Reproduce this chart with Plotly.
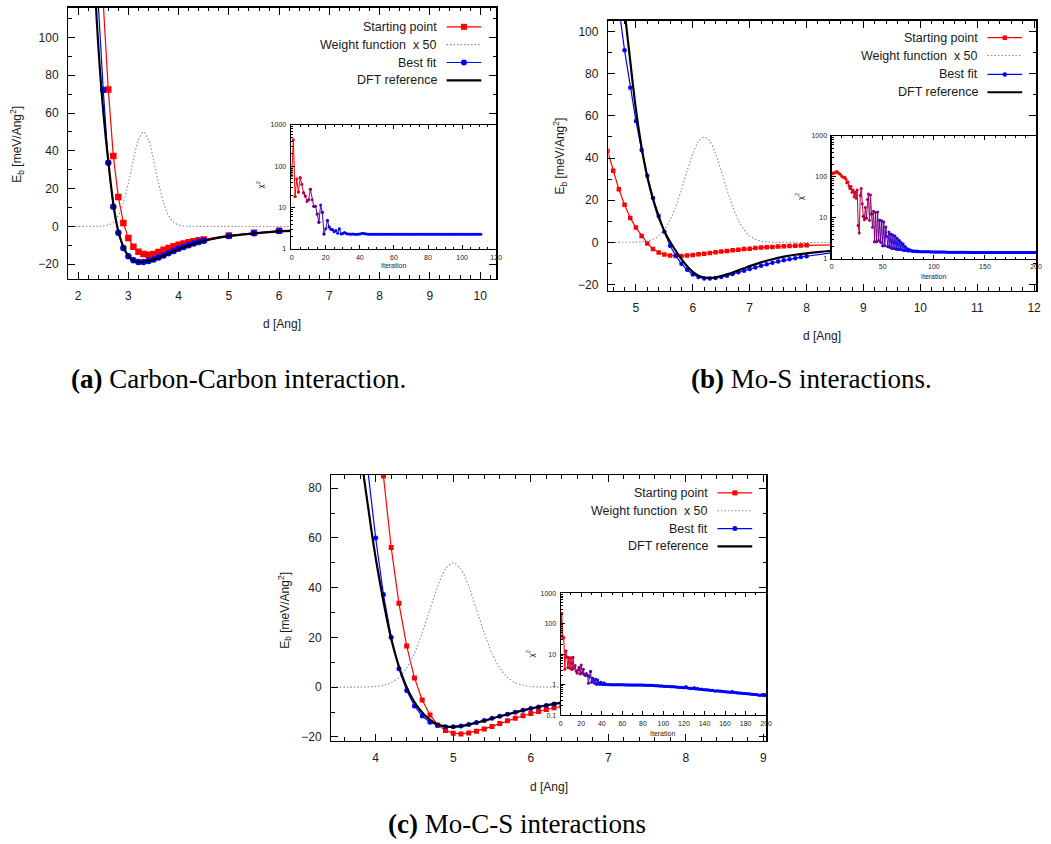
import plotly.graph_objects as go

# ---------------- panel (a): Carbon-Carbon ----------------
d_a_dft = [2.30, 2.35, 2.40, 2.45, 2.50, 2.55, 2.60, 2.65, 2.70, 2.75, 2.80, 2.85, 2.90, 2.95,
           3.00, 3.05, 3.10, 3.15, 3.20, 3.25, 3.30, 3.35, 3.40, 3.50, 3.60, 3.70, 3.80, 3.90,
           4.00, 4.20, 4.40, 4.60, 4.80, 5.00, 5.50, 6.00, 6.50, 7.00, 8.00, 9.00, 10.40]
E_a_dft = [150, 119, 96, 77, 61, 47, 34.5, 22.5, 12, 3.6, -2.6, -7.2, -10.8, -13.6,
           -15.6, -17.0, -18.0, -18.6, -18.9, -19.0, -18.9, -18.7, -18.4, -17.6, -16.7, -15.6, -14.4, -13.2,
           -12.1, -10.2, -8.5, -7.1, -6.0, -5.2, -3.7, -2.7, -2.1, -1.6, -1.0, -0.7, -0.4]
d_a_start = [2.5, 2.6, 2.7, 2.8, 2.9, 3.0, 3.1, 3.2, 3.3, 3.4, 3.5, 3.6, 3.7, 3.8, 3.9, 4.0, 4.1,
             4.2, 4.3, 4.4, 4.5, 5.0, 5.5, 6.0, 6.5, 7.0, 7.5, 8.0, 8.5, 9.0, 9.5, 10.0]
E_a_start = [118, 72.5, 37.3, 15.6, 1.8, -6.2, -10.8, -13.4, -14.6, -15.0, -14.6, -13.6, -12.4, -11.4,
             -10.5, -9.7, -9.0, -8.4, -7.9, -7.4, -6.9, -4.8, -3.4, -2.3, -1.8, -1.4, -1.1, -0.9, -0.7,
             -0.6, -0.5, -0.4]
d_a_fit = [2.4, 2.5, 2.6, 2.7, 2.8, 2.9, 3.0, 3.1, 3.2, 3.3, 3.4, 3.5, 3.6, 3.7, 3.8, 3.9, 4.0, 4.1,
           4.2, 4.3, 4.4, 4.5, 5.0, 5.5, 6.0, 6.5, 7.0, 7.5, 8.0, 8.5, 9.0, 9.5, 10.0]
E_a_fit = [118, 72.2, 33.7, 10.4, -3.4, -11.4, -15.8, -17.9, -18.8, -18.8, -18.3, -17.5, -16.5, -15.4,
           -14.2, -13.0, -11.9, -10.9, -10.0, -9.1, -8.3, -7.6, -5.1, -3.6, -2.5, -1.9, -1.5, -1.2,
           -0.95, -0.75, -0.6, -0.5, -0.4]
d_a_w = [1.80, 2.40, 2.50, 2.60, 2.70, 2.80, 2.90, 3.00, 3.10, 3.20, 3.30, 3.40, 3.50, 3.60, 3.70,
         3.80, 3.90, 4.00, 4.10, 4.20, 4.30, 10.40]
W_a = [0, 0.03, 0.19, 0.71, 2.2, 5.7, 12.5, 22.9, 35.3, 45.8, 50.0, 45.8, 35.3, 22.9, 12.5,
       5.7, 2.2, 0.71, 0.19, 0.04, 0, 0]
chi_a = [60, 440, 18.7, 49, 24, 53, 37, 23, 19, 14,
         15.5, 28, 15.5, 10.8, 10.8, 7.0, 4.4, 11.6, 7.7, 2.3,
         3.1, 4.9, 3.4, 3.0, 2.9, 2.6, 2.8, 2.4, 3.1, 2.3,
         2.35, 2.5, 2.35, 2.3, 2.3, 2.28, 2.3, 2.28, 2.27, 2.28,
         2.3, 2.35, 2.4, 2.32, 2.3, 2.28, 2.28, 2.27, 2.28, 2.28,
         2.27, 2.28, 2.28, 2.28, 2.27, 2.28, 2.28, 2.28, 2.27, 2.28,
         2.28, 2.28, 2.27, 2.28, 2.28, 2.28, 2.27, 2.28, 2.28, 2.28,
         2.27, 2.28, 2.28, 2.28, 2.27, 2.28, 2.28, 2.27, 2.28, 2.28,
         2.28, 2.27, 2.28, 2.28, 2.28, 2.27, 2.28, 2.28, 2.28, 2.27,
         2.28, 2.28, 2.27, 2.28, 2.28, 2.28, 2.27, 2.28, 2.28, 2.28,
         2.27, 2.28, 2.28, 2.28, 2.27, 2.28, 2.28, 2.28, 2.27, 2.28,
         2.28, 2.28]

# ---------------- panel (b): Mo-S ----------------
d_b_dft = [4.75, 4.80, 4.85, 4.90, 4.95, 5.00, 5.05, 5.10, 5.15, 5.20, 5.25, 5.30, 5.35, 5.40, 5.45,
           5.50, 5.55, 5.60, 5.70, 5.80, 5.90, 6.00, 6.10, 6.20, 6.30, 6.40, 6.50, 6.60, 6.70, 6.80,
           6.90, 7.00, 7.20, 7.40, 7.60, 7.80, 8.00, 8.20, 8.40, 8.60, 9.00, 9.50, 10.00, 11.00, 12.10]
E_b_dft = [123, 110, 98, 86, 74, 63, 53.5, 45, 37.5, 31, 25.5, 20.5, 16, 12, 8.5,
           5.3, 2.6, 0.3, -4.0, -8.0, -11.3, -14.0, -15.8, -16.7, -16.9, -16.6, -16.0, -15.2, -14.3, -13.3,
           -12.3, -11.3, -9.5, -8.0, -6.8, -5.9, -5.2, -4.6, -4.1, -3.7, -3.0, -2.4, -1.9, -1.3, -0.8]
d_b_start = [4.5, 4.6, 4.7, 4.8, 4.9, 5.0, 5.1, 5.2, 5.3, 5.4, 5.5, 5.6, 5.7, 5.8, 5.9, 6.0, 6.1, 6.2,
             6.3, 6.4, 6.5, 6.6, 6.7, 6.8, 6.9, 7.0, 7.1, 7.2, 7.3, 7.4, 7.5, 7.6, 7.7, 7.8, 7.9, 8.0,
             8.5, 9.0, 9.5, 10.0, 10.5, 11.0, 11.5, 12.0]
E_b_start = [43.5, 34.0, 25.2, 17.8, 11.6, 7.0, 3.0, -0.5, -3.2, -4.8, -5.8, -6.3, -6.5, -6.5, -6.3,
             -6.0, -5.7, -5.4, -5.0, -4.7, -4.4, -4.1, -3.8, -3.5, -3.2, -3.0, -2.7, -2.5, -2.3, -2.2,
             -2.0, -1.9, -1.7, -1.6, -1.5, -1.4, -1.1, -0.9, -0.7, -0.6, -0.5, -0.4, -0.35, -0.3]
d_b_fit = [4.5, 4.6, 4.7, 4.8, 4.9, 5.0, 5.1, 5.2, 5.3, 5.4, 5.5, 5.6, 5.7, 5.8, 5.9, 6.0, 6.1, 6.2,
           6.3, 6.4, 6.5, 6.6, 6.7, 6.8, 6.9, 7.0, 7.1, 7.2, 7.3, 7.4, 7.5, 7.6, 7.7, 7.8, 7.9, 8.0,
           8.5, 9.0, 9.5, 10.0, 10.5, 11.0, 11.5, 12.0]
E_b_fit = [160, 134, 111.5, 91.1, 73.4, 57.6, 43.8, 31.6, 21.1, 12.5, 5.0, -1.6, -6.3, -10.2, -13.0,
           -15.2, -16.4, -17.1, -17.2, -16.9, -16.4, -15.8, -15.0, -14.2, -13.5, -12.7, -11.9, -11.1,
           -10.4, -9.7, -9.1, -8.5, -8.0, -7.5, -7.0, -6.6, -4.8, -3.6, -2.8, -2.2, -1.7, -1.4, -1.1, -0.9]
d_b_w = [4.50, 5.00, 5.10, 5.20, 5.30, 5.40, 5.50, 5.60, 5.70, 5.80, 5.90, 6.00, 6.10, 6.20, 6.30,
         6.40, 6.50, 6.60, 6.70, 6.80, 6.90, 7.00, 7.10, 7.20, 7.30, 7.40, 7.50, 12.10]
W_b = [0, 0.1, 0.27, 0.66, 1.5, 3.1, 6.0, 10.5, 17.0, 25.0, 33.9, 42.1, 47.9, 50.0, 47.9,
       42.1, 33.9, 25.0, 17.0, 10.5, 6.0, 3.1, 1.5, 0.66, 0.27, 0.1, 0, 0]
chi_b = [125, 120, 126, 124, 130, 136, 128, 122, 118, 112,
         104, 100, 96, 98, 88, 72, 75, 60, 52, 58,
         42, 48, 33, 42, 30, 48, 6.5, 4.3, 35, 52,
         22, 11, 9, 18, 10, 28, 38, 8.7, 36, 12.5,
         5.9, 14.5, 2.6, 13.6, 2.6, 14, 2.8, 8.7, 2.5, 8.5,
         2.1, 7.9, 2.1, 6.0, 3.5, 2.0, 4.5, 1.9, 4.0, 1.8,
         3.8, 1.8, 3.6, 1.75, 3.2, 1.7, 2.8, 1.7, 2.5, 1.65,
         2.3, 1.6, 2.0, 1.6, 1.8, 1.55, 1.7, 1.55, 1.6, 1.52,
         1.58, 1.52, 1.55, 1.5, 1.56, 1.5, 1.52, 1.5, 1.5, 1.49,
         1.5, 1.49, 1.5, 1.49, 1.49, 1.49, 1.49, 1.48, 1.49, 1.48,
         1.48, 1.48, 1.48, 1.48, 1.47, 1.48, 1.47, 1.47, 1.47, 1.47,
         1.47, 1.47, 1.46, 1.47, 1.46, 1.46, 1.46, 1.46, 1.46, 1.46,
         1.46, 1.46, 1.45, 1.46, 1.45, 1.45, 1.45, 1.45, 1.45, 1.45,
         1.45, 1.45, 1.45, 1.44, 1.45, 1.44, 1.44, 1.44, 1.44, 1.44,
         1.44, 1.44, 1.44, 1.44, 1.44, 1.44, 1.44, 1.44, 1.44, 1.44,
         1.44, 1.44, 1.44, 1.43, 1.44, 1.43, 1.44, 1.43, 1.43, 1.43,
         1.43, 1.43, 1.43, 1.43, 1.43, 1.43, 1.43, 1.43, 1.43, 1.43,
         1.43, 1.43, 1.43, 1.43, 1.43, 1.43, 1.43, 1.43, 1.43, 1.43,
         1.43, 1.43, 1.43, 1.43, 1.43, 1.43, 1.43, 1.43, 1.43, 1.43,
         1.43, 1.43, 1.43, 1.43, 1.43, 1.43, 1.43, 1.43, 1.43, 1.43,
         1.43]

# ---------------- panel (c): Mo-C-S ----------------
d_c_dft = [3.80, 3.85, 3.90, 3.95, 4.00, 4.05, 4.10, 4.15, 4.20, 4.25, 4.30, 4.35, 4.40, 4.45, 4.50,
           4.55, 4.60, 4.65, 4.70, 4.75, 4.80, 4.85, 4.90, 4.95, 5.00, 5.10, 5.20, 5.30, 5.40, 5.50,
           5.60, 5.70, 5.80, 5.90, 6.00, 6.20, 6.40, 6.60, 6.80, 7.00, 7.50, 8.00, 8.50, 9.10]
E_c_dft = [97, 84, 73, 62, 52, 43, 34.5, 26.5, 19.5, 13.5, 8.3, 3.8, 0.0, -3.3, -6.0,
           -8.3, -10.2, -11.8, -13.1, -14.2, -15.0, -15.5, -15.8, -16.0, -16.0, -15.7, -15.1, -14.3, -13.5, -12.6,
           -11.7, -10.9, -10.1, -9.3, -8.6, -7.3, -6.2, -5.3, -4.5, -3.9, -2.7, -1.9, -1.4, -1.0]
d_c_start = [4.0, 4.1, 4.2, 4.3, 4.4, 4.5, 4.6, 4.7, 4.8, 4.9, 5.0, 5.1, 5.2, 5.3, 5.4, 5.5, 5.6, 5.7,
             5.8, 5.9, 6.0, 6.1, 6.2, 6.3, 6.4, 6.5, 7.0, 7.5, 8.0, 8.5, 9.0]
E_c_start = [122, 84.9, 56.2, 33.7, 16.5, 3.7, -5.2, -11.2, -15.2, -17.4, -18.5, -18.8, -18.4, -17.7,
             -16.8, -15.8, -14.6, -13.5, -12.5, -11.5, -10.6, -9.8, -9.0, -8.3, -7.7, -7.1, -4.8, -3.3,
             -2.3, -1.7, -1.3]
d_c_fit = [3.8, 3.9, 4.0, 4.1, 4.2, 4.3, 4.4, 4.5, 4.6, 4.7, 4.8, 4.9, 5.0, 5.1, 5.2, 5.3, 5.4, 5.5,
           5.6, 5.7, 5.8, 5.9, 6.0, 6.1, 6.2, 6.3, 6.4, 6.5, 7.0, 7.5, 8.0, 8.5, 9.0]
E_c_fit = [120, 87, 60.0, 37.3, 20.1, 7.4, -1.4, -7.6, -11.6, -14.1, -15.4, -15.9, -15.9, -15.6, -15.0,
           -14.2, -13.4, -12.5, -11.7, -10.9, -10.1, -9.3, -8.6, -8.0, -7.4, -6.8, -6.3, -5.8, -3.9,
           -2.8, -2.0, -1.5, -1.1]
d_c_w = [3.40, 3.80, 3.90, 4.00, 4.10, 4.20, 4.30, 4.40, 4.50, 4.60, 4.70, 4.80, 4.90, 5.00, 5.10,
         5.20, 5.30, 5.40, 5.50, 5.60, 5.70, 5.80, 5.90, 6.00, 6.10, 6.20, 9.10]
W_c = [0, 0.02, 0.09, 0.27, 0.74, 1.8, 3.9, 7.7, 13.6, 21.8, 31.3, 40.6, 47.5, 50.0, 47.5,
       40.6, 31.3, 21.8, 13.6, 7.7, 3.9, 1.8, 0.74, 0.27, 0.09, 0.02, 0]
chi_c = [36, 218, 36, 34, 3.2, 12.6, 8.0, 3.6, 7.6, 3.4,
         7.6, 3.2, 7.8, 3.5, 4.2, 2.8, 2.4, 3.0, 3.6, 2.2,
         4.4, 2.4, 3.2, 2.1, 2.0, 2.3, 2.0, 1.1, 1.8, 2.7,
         1.2, 1.6, 1.3, 1.1, 1.5, 1.0, 1.4, 1.1, 1.0, 1.2,
         1.05, 1.0, 1.15, 1.0, 1.05, 1.0, 0.99, 1.0, 0.99, 0.99,
         0.99, 0.98, 0.99, 0.98, 0.98, 0.99, 0.98, 0.98, 0.98, 0.98,
         0.98, 0.98, 0.97, 0.98, 0.97, 0.97, 0.98, 0.97, 0.97, 0.97,
         0.97, 0.96, 0.97, 0.96, 0.96, 0.96, 0.97, 0.96, 0.96, 0.96,
         0.96, 0.95, 0.96, 0.95, 0.95, 0.95, 0.94, 0.95, 0.94, 0.94,
         0.93, 0.93, 0.92, 0.92, 0.91, 0.91, 0.90, 0.90, 0.89, 0.89,
         0.88, 0.88, 0.87, 0.87, 0.86, 0.86, 0.86, 0.85, 0.85, 0.84,
         0.84, 0.84, 0.83, 0.83, 0.82, 0.82, 0.81, 0.81, 0.80, 0.80,
         0.79, 0.79, 0.86, 0.78, 0.77, 0.76, 0.76, 0.75, 0.74, 0.74,
         0.80, 0.73, 0.72, 0.76, 0.71, 0.70, 0.70, 0.72, 0.69, 0.68,
         0.67, 0.67, 0.66, 0.68, 0.66, 0.65, 0.65, 0.64, 0.65, 0.63,
         0.62, 0.62, 0.61, 0.63, 0.61, 0.60, 0.61, 0.59, 0.59, 0.58,
         0.58, 0.58, 0.57, 0.57, 0.57, 0.56, 0.56, 0.60, 0.55, 0.55,
         0.55, 0.54, 0.54, 0.53, 0.53, 0.53, 0.52, 0.52, 0.51, 0.51,
         0.51, 0.50, 0.50, 0.50, 0.49, 0.49, 0.48, 0.48, 0.48, 0.47,
         0.47, 0.46, 0.46, 0.45, 0.45, 0.45, 0.47, 0.44, 0.48, 0.43,
         0.46]

legend_labels = ["Starting point", "Weight function\u00a0\u00a0x 50", "Best fit", "DFT reference"]
captions = ["<b>(a)</b> Carbon-Carbon interaction.", "<b>(b)</b> Mo-S interactions.",
            "<b>(c)</b> Mo-C-S interactions"]

# ---------------- layout helpers ----------------
W, H = 1051, 844
def PX(x):
    return x / W
def PY(y):
    return 1 - y / H

SANS = "Liberation Sans, Arial, sans-serif"
SERIF = "Liberation Serif, Times New Roman, serif"
TXT = "#1a1a1a"
WCOL = "#8c8c8c"
WDASH = "1.5px,2px"

fig = go.Figure()

panels = [
    dict(frame=(67, 4, 498, 277), inset=(291, 122, 498, 247),
         xr=[1.808, 10.32], yr=[-27.7, 115.6], xd=1, xm=0.2, yd=20, ym=10,
         dft=(d_a_dft, E_a_dft), start=(d_a_start, E_a_start), fit=(d_a_fit, E_a_fit), w=(d_a_w, W_a),
         chi=chi_a, ixr=[-0.5, 120], iyr=[0, 3], ixd=20, ixm=5,
         grad=(1, 24), ms=6.5,
         leg=dict(tx=440, l0=448, l1=483, rows=[23, 41, 59, 77], ms=6),
         xlab=(282.5, 323), ylab=(15, 141), ilab=(395, 264), ichi=(260, 183),
         cap=(238, 378)),
    dict(frame=(611, 17, 1042, 289), inset=(836, 133, 1042, 257),
         xr=[4.515, 12.035], yr=[-22.9, 105.1], xd=1, xm=0.2, yd=20, ym=10,
         dft=(d_b_dft, E_b_dft), start=(d_b_start, E_b_start), fit=(d_b_fit, E_b_fit), w=(d_b_w, W_b),
         chi=chi_b, ixr=[0, 200], iyr=[0, 3], ixd=50, ixm=10,
         grad=(12, 72), ms=4.5,
         leg=dict(tx=985, l0=993, l1=1028, rows=[34, 52, 71, 89], ms=4.5),
         xlab=(826.5, 335), ylab=(562, 153), ilab=(939, 275), ichi=(804, 194),
         cap=(816, 378)),
    dict(frame=(332, 475, 770, 743), inset=(563, 594, 770, 717),
         xr=[3.43, 9.035], yr=[-21.6, 85.3], xd=1, xm=0.2, yd=20, ym=10,
         dft=(d_c_dft, E_c_dft), start=(d_c_start, E_c_start), fit=(d_c_fit, E_c_fit), w=(d_c_w, W_c),
         chi=chi_c, ixr=[0, 200], iyr=[-1, 3], ixd=20, ixm=10,
         grad=(1, 40), ms=5,
         leg=dict(tx=713, l0=721, l1=756, rows=[493, 511, 529, 547], ms=5),
         xlab=(551, 790), ylab=(285, 611), ilab=(666, 736), ichi=(532, 655),
         cap=(519, 827)),
]

layout_axes = {}
annotations = []
shapes = []

for k, p in enumerate(panels):
    mx, my = 2 * k + 1, 2 * k + 1
    ix, iy = 2 * k + 2, 2 * k + 2
    mxn = "x" if mx == 1 else f"x{mx}"
    myn = "y" if my == 1 else f"y{my}"
    ixn, iyn = f"x{ix}", f"y{iy}"
    l, t, r, b = p["frame"]
    il, it, ir, ib = p["inset"]

    common = dict(showline=True, linecolor="black", ticks="inside",
                  tickcolor="black", tickwidth=1, showgrid=False, zeroline=False, fixedrange=True)
    layout_axes["xaxis" if mx == 1 else f"xaxis{mx}"] = dict(
        common, mirror="allticks", domain=[PX(l), PX(r)], range=p["xr"], anchor=myn, linewidth=1.5,
        dtick=p["xd"], tick0=0, ticklen=7,
        minor=dict(ticks="inside", ticklen=3.5, dtick=p["xm"], tick0=0, tickcolor="black", showgrid=False),
        tickfont=dict(family=SANS, size=12, color=TXT), ticklabelstandoff=5)
    layout_axes["yaxis" if my == 1 else f"yaxis{my}"] = dict(
        common, mirror="allticks", domain=[PY(b), PY(t)], range=p["yr"], anchor=mxn, linewidth=1.5,
        dtick=p["yd"], tick0=0, ticklen=7,
        minor=dict(ticks="inside", ticklen=3.5, dtick=p["ym"], tick0=0, tickcolor="black", showgrid=False),
        tickfont=dict(family=SANS, size=12, color=TXT), ticklabelstandoff=6)
    layout_axes[f"xaxis{ix}"] = dict(
        common, mirror="allticks", domain=[PX(il), PX(ir)], range=p["ixr"], anchor=iyn, linewidth=1.2,
        dtick=p["ixd"], tick0=0, ticklen=4,
        minor=dict(ticks="inside", ticklen=2, dtick=p["ixm"], tick0=0, tickcolor="black", showgrid=False),
        tickfont=dict(family=SANS, size=7, color=TXT), ticklabelstandoff=1)
    layout_axes[f"yaxis{iy}"] = dict(
        common, mirror=True, domain=[PY(ib), PY(it)], range=p["iyr"], type="log", anchor=ixn, linewidth=1.2,
        dtick=1, ticklen=4, exponentformat="none",
        minor=dict(ticks="inside", ticklen=2, dtick="D1", tickcolor="black", showgrid=False),
        tickfont=dict(family=SANS, size=7, color=TXT), ticklabelstandoff=2)

    # main curves (gnuplot order: start, weight, fit, dft)
    xs, ys = p["start"]
    fig.add_trace(go.Scatter(x=xs, y=ys, xaxis=mxn, yaxis=myn, mode="lines+markers",
                             line=dict(color="#ff0000", width=1.2),
                             marker=dict(symbol="square", size=p["ms"], color="#ff0000"),
                             showlegend=False, hoverinfo="skip"))
    xs, ys = p["w"]
    fig.add_trace(go.Scatter(x=xs, y=ys, xaxis=mxn, yaxis=myn, mode="lines",
                             line=dict(color=WCOL, width=1.1, dash=WDASH, shape="spline", smoothing=0.8),
                             showlegend=False, hoverinfo="skip"))
    xs, ys = p["fit"]
    fig.add_trace(go.Scatter(x=xs, y=ys, xaxis=mxn, yaxis=myn, mode="lines+markers",
                             line=dict(color="#0000ff", width=1.2),
                             marker=dict(symbol="circle", size=p["ms"], color="#0000ff"),
                             showlegend=False, hoverinfo="skip"))
    xs, ys = p["dft"]
    fig.add_trace(go.Scatter(x=xs, y=ys, xaxis=mxn, yaxis=myn, mode="lines",
                             line=dict(color="black", width=2.2, shape="spline", smoothing=0.6),
                             showlegend=False, hoverinfo="skip"))

    # inset chi^2 with red -> blue colour gradient along the iterations
    chi = p["chi"]
    its = list(range(len(chi)))
    g0, g1 = p["grad"]
    levels = 16
    def lvl(i):
        tt = (i - g0) / (g1 - g0)
        return round(min(max(tt, 0.0), 1.0) * (levels - 1))
    runs = []
    s = 0
    cur = lvl(0)
    for i in range(1, len(chi) - 1):
        li = lvl(i)
        if li != cur:
            runs.append((s, i, cur))
            s, cur = i, li
    runs.append((s, len(chi) - 1, cur))
    for s0, e0, lv in runs:
        tt = lv / (levels - 1)
        col = f"rgb({round(255 * (1 - tt))},0,{round(255 * tt)})"
        fig.add_trace(go.Scatter(x=its[s0:e0 + 1], y=chi[s0:e0 + 1], xaxis=ixn, yaxis=iyn,
                                 mode="lines+markers", line=dict(color=col, width=1),
                                 marker=dict(size=3, color=col), showlegend=False, hoverinfo="skip"))

    # legend (gnuplot style: text right-aligned, sample on the right)
    lg = p["leg"]
    styles = [("#ff0000", 1.2, "solid", "square"), (WCOL, 1.1, WDASH, None),
              ("#0000ff", 1.2, "solid", "circle"), ("black", 2.2, "solid", None)]
    for lab, row, (col, lw, dash, sym) in zip(legend_labels, lg["rows"], styles):
        annotations.append(dict(x=PX(lg["tx"]), y=PY(row), xref="paper", yref="paper", text=lab,
                                showarrow=False, xanchor="right", yanchor="middle",
                                font=dict(family=SANS, size=12.5, color=TXT)))
        shapes.append(dict(type="line", xref="paper", yref="paper", x0=PX(lg["l0"]), x1=PX(lg["l1"]),
                           y0=PY(row), y1=PY(row), line=dict(color=col, width=lw, dash=dash)))
        if sym:
            h = lg["ms"] / 2
            shapes.append(dict(type="rect" if sym == "square" else "circle", xref="paper", yref="paper",
                               xsizemode="pixel", ysizemode="pixel",
                               xanchor=PX((lg["l0"] + lg["l1"]) / 2), yanchor=PY(row),
                               x0=-h, x1=h, y0=-h, y1=h, fillcolor=col, line=dict(width=0)))

    # axis titles
    annotations.append(dict(x=PX(p["xlab"][0]), y=PY(p["xlab"][1]), xref="paper", yref="paper",
                            text="d [Ang]", showarrow=False, xanchor="center", yanchor="middle",
                            font=dict(family=SANS, size=12, color=TXT)))
    annotations.append(dict(x=PX(p["ylab"][0]), y=PY(p["ylab"][1]), xref="paper", yref="paper",
                            text="E<sub>b</sub> [meV/Ang<sup>2</sup>]", textangle=-90, showarrow=False,
                            xanchor="center", yanchor="middle", font=dict(family=SANS, size=12, color=TXT)))
    annotations.append(dict(x=PX(p["ilab"][0]), y=PY(p["ilab"][1]), xref="paper", yref="paper",
                            text="Iteration", showarrow=False, xanchor="center", yanchor="middle",
                            font=dict(family=SANS, size=7, color=TXT)))
    annotations.append(dict(x=PX(p["ichi"][0]), y=PY(p["ichi"][1]), xref="paper", yref="paper",
                            text="\u03c7<sup>2</sup>", textangle=-90, showarrow=False,
                            xanchor="center", yanchor="middle", font=dict(family=SANS, size=8, color=TXT)))
    annotations.append(dict(x=PX(p["cap"][0]), y=PY(p["cap"][1]), xref="paper", yref="paper",
                            text=captions[k], showarrow=False, xanchor="center", yanchor="middle",
                            font=dict(family=SERIF, size=27, color="black")))

fig.update_layout(width=W, height=H, margin=dict(l=0, r=0, t=0, b=0), autosize=False,
                  paper_bgcolor="white", plot_bgcolor="#ffffff", showlegend=False,
                  annotations=annotations, shapes=shapes, **layout_axes)

fig.write_html("out.html", config={"displayModeBar": False, "staticPlot": True},
               post_script="document.body.style.margin='0';")
